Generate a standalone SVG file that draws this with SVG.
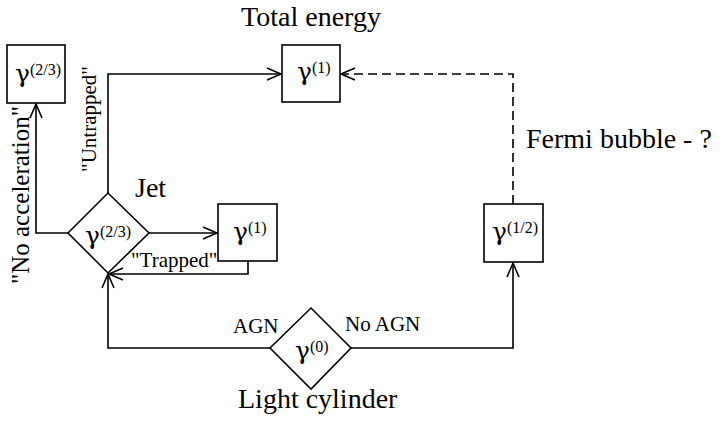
<svg xmlns="http://www.w3.org/2000/svg" width="725" height="423" viewBox="0 0 725 423">
<style>
.ln{fill:none;stroke:#000;stroke-width:1.6}
.dash{stroke-dasharray:9 5}
.sh{fill:#fff;stroke:#000;stroke-width:1.6}
text{font-family:"Liberation Serif","Times New Roman",serif;fill:#000}
.g{font-family:"DejaVu Serif","Liberation Serif",serif;font-size:25px}
.sup{font-size:16px}
.big{font-size:28px}
.lab{font-size:21px}
</style>
<defs>
<marker id="ah" markerUnits="userSpaceOnUse" markerWidth="20" markerHeight="14" refX="15" refY="7" orient="auto" viewBox="0 0 20 14">
<path d="M1,1 L15,7 L1,13" fill="none" stroke="#000" stroke-width="1.6"/>
</marker>
</defs>
<rect width="725" height="423" fill="#fff"/>
<g id="connectors">
<polyline class="ln" points="68,233 36,233 36,104" marker-end="url(#ah)"/>
<polyline class="ln" points="108,193 108,74 281,74" marker-end="url(#ah)"/>
<polyline class="ln" points="149,233 217,233" marker-end="url(#ah)"/>
<polyline class="ln" points="248,261 248,274 109,274" marker-end="url(#ah)"/>
<polyline class="ln" points="270,348 108,348 108,274" marker-end="url(#ah)"/>
<polyline class="ln" points="351,348 513,348 513,263" marker-end="url(#ah)"/>
<polyline class="ln dash" points="513,204 513,74 341,74" marker-end="url(#ah)"/>
</g>
<g id="n_box23">
<rect class="sh" x="7" y="45" width="58" height="58"/>
<text x="15" y="82"><tspan class="g">γ</tspan><tspan class="sup" dy="-7">(2/3)</tspan></text>
</g>
<g id="n_total">
<rect class="sh" x="282" y="45" width="58" height="57"/>
<text x="297" y="80"><tspan class="g">γ</tspan><tspan class="sup" dy="-7">(1)</tspan></text>
<text class="big" x="311" y="26" text-anchor="middle">Total energy</text>
</g>
<g id="n_jet">
<polygon class="sh" points="68,233 108,193 149,233 108,273"/>
<text x="85" y="244"><tspan class="g">γ</tspan><tspan class="sup" dy="-7">(2/3)</tspan></text>
<text class="big" x="135" y="197">Jet</text>
</g>
<g id="n_trapped">
<rect class="sh" x="218" y="204" width="59" height="57"/>
<text x="233" y="240"><tspan class="g">γ</tspan><tspan class="sup" dy="-7">(1)</tspan></text>
</g>
<g id="n_half">
<rect class="sh" x="484" y="204" width="59" height="58"/>
<text x="492" y="240"><tspan class="g">γ</tspan><tspan class="sup" dy="-7">(1/2)</tspan></text>
<text class="big" x="526" y="148">Fermi bubble - ?</text>
</g>
<g id="n_zero">
<polygon class="sh" points="270,348 311,308 351,348 311,389"/>
<text x="295" y="359"><tspan class="g">γ</tspan><tspan class="sup" dy="-7">(0)</tspan></text>
<text class="big" x="238" y="408">Light cylinder</text>
</g>
<g id="labels">
<text class="lab" x="233" y="333">AGN</text>
<text class="lab" x="345" y="331">No AGN</text>
<text class="lab" x="131" y="267">"Trapped"</text>
<text transform="translate(29,195) rotate(-90)" text-anchor="middle" font-size="25">"No acceleration"</text>
<text class="lab" transform="translate(96,119) rotate(-90)" text-anchor="middle">"Untrapped"</text>
</g>
</svg>
